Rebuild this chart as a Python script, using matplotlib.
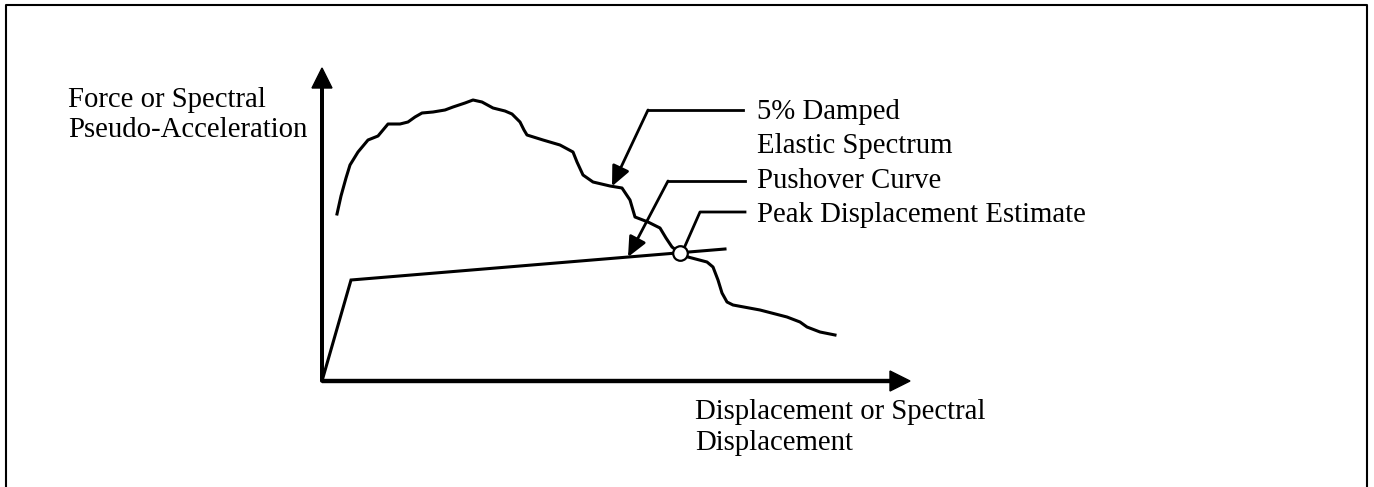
import numpy as np
import matplotlib
matplotlib.use('Agg')
import matplotlib.pyplot as plt

plt.rcParams['font.family'] = 'Liberation Serif'

# 5% damped elastic spectrum (spectral displacement, pseudo-acceleration)
spec_d = [15, 19, 24, 28, 36, 46, 56, 61, 66, 78, 86, 93, 100, 111, 123, 131, 143, 151,
          160, 171, 183, 190, 198, 202, 205, 221, 238, 251, 255, 261, 271, 288, 300, 308,
          313, 326, 338, 344, 350, 358, 366, 385, 391, 396, 400, 405, 411, 438, 465, 478,
          485, 498, 513]
spec_a = [167, 185, 203, 216, 229, 241, 245, 251, 257, 257, 259, 264, 268, 269, 271, 274, 278, 281,
          279, 273, 270, 267, 259, 251, 246, 241, 236, 229, 219, 206, 199, 195, 193, 181,
          164, 159, 153, 143, 134, 128, 124, 119, 114, 101, 88, 79, 76, 71, 64, 59,
          54, 49, 46]

# bilinear pushover curve
push_d = [0, 29, 403]
push_f = [0, 101, 132]

# performance point
peak_d = 358
peak_f = 128

# axis extents
x_max = 588
y_max = 313

fig = plt.figure(figsize=(13.74, 4.87), dpi=100)
ax = fig.add_axes([0, 0, 1, 1])
ax.set_xlim(-322, 1052)
ax.set_ylim(-106, 381)
ax.axis('off')

# outer frame (open at the bottom)
ax.plot([-316, -316, 1045, 1045], [-120, 376, 376, -120], color='black', lw=1.5, zorder=1)

# axes with arrow heads
ax.arrow(0, 0, 0, y_max, width=2.6, head_width=20, head_length=20,
         length_includes_head=True, color='black', zorder=3)
ax.arrow(0, 0, x_max, 0, width=3.0, head_width=20, head_length=20,
         length_includes_head=True, color='black', zorder=3)

ax.plot(spec_d, spec_a, color='black', lw=2.2, solid_joinstyle='round', zorder=4)
ax.plot(push_d, push_f, color='black', lw=2.2, solid_joinstyle='miter', zorder=4)
ax.plot(peak_d, peak_f, 'o', ms=10.5, mfc='white', mec='black', mew=1.6, zorder=6)

fs = 20.7
ax.text(-254, 274, 'Force or Spectral', fontsize=fs, va='baseline')
ax.text(-254, 244, 'Pseudo-Acceleration', fontsize=fs, va='baseline')
ax.text(373, -38, 'Displacement or Spectral', fontsize=fs, va='baseline')
ax.text(373, -69, 'Displacement', fontsize=fs, va='baseline')

ax.text(435, 262, '5% Damped', fontsize=fs, va='baseline')
ax.text(435, 228, 'Elastic Spectrum', fontsize=fs, va='baseline')
ax.text(435, 193, 'Pushover Curve', fontsize=fs, va='baseline')
ax.text(435, 159, 'Peak Displacement Estimate', fontsize=fs, va='baseline')

arrow_kw = dict(arrowstyle='-|>,head_length=0.55,head_width=0.25', lw=2.0, color='black',
                shrinkA=0, shrinkB=0, mutation_scale=22)

# leader to the spectrum
tip_x = 290
tip_y = np.interp(tip_x, spec_d, spec_a)
ax.plot([421, 326], [271, 271], color='black', lw=2.0)
ax.annotate('', xy=(tip_x, tip_y), xytext=(326, 271), arrowprops=arrow_kw, zorder=5)

# leader to the pushover curve
tip_x = 306
tip_y = np.interp(tip_x, push_d, push_f)
ax.plot([423, 346], [200, 200], color='black', lw=2.0)
ax.annotate('', xy=(tip_x, tip_y), xytext=(346, 200), arrowprops=arrow_kw, zorder=5)

# leader to the intersection point
ax.plot([423, 378, peak_d + 5, ], [169, 169, peak_f + 7], color='black', lw=2.0, zorder=5)

fig.savefig('out.png', dpi=100)
